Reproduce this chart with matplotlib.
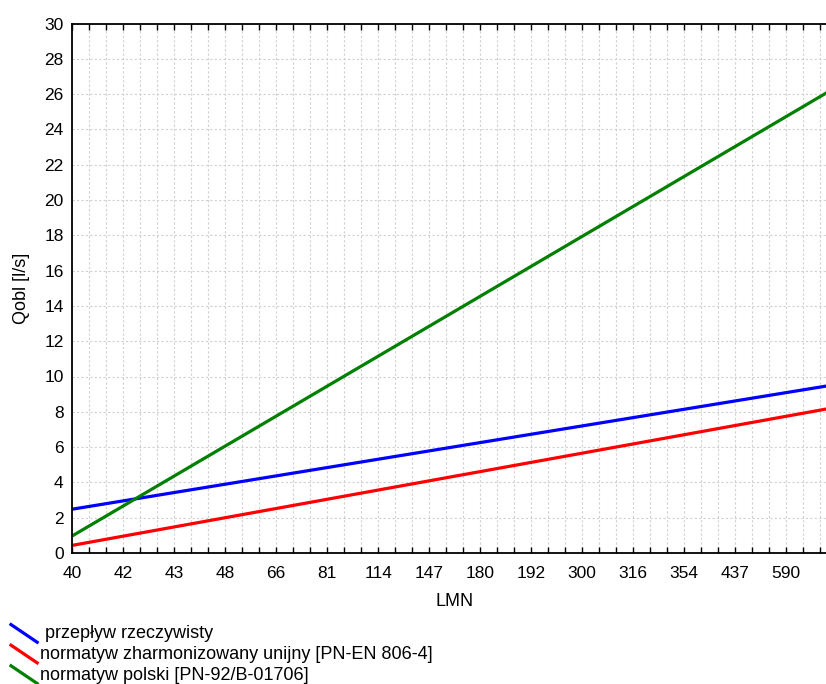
import matplotlib
matplotlib.use("Agg")
import matplotlib.pyplot as plt
from matplotlib.lines import Line2D
from matplotlib.legend_handler import HandlerBase
import numpy as np

plt.rcParams['font.family'] = ['Liberation Sans', 'DejaVu Sans']

# kategorie LMN (co trzeci znacznik ma etykiete)
lmn_labels = ['40', '42', '43', '48', '66', '81', '114', '147', '180',
              '192', '300', '316', '354', '437', '590']
n_ticks = 46  # liczba pozycji na osi X

# wartosci na poczatku i koncu osi (linie proste)
qobl_rzecz = [2.48, 9.56]
qobl_unijny = [0.43, 8.27]
qobl_polski = [0.96, 26.43]

nazwy = [' przepływ rzeczywisty',
         'normatyw zharmonizowany unijny [PN-EN 806-4]',
         'normatyw polski [PN-92/B-01706]']
kolory = ['#0000ff', '#ff0000', '#008000']


class SkosHandler(HandlerBase):
    def create_artists(self, legend, orig_handle, xdescent, ydescent,
                       width, height, fontsize, trans):
        l = Line2D([-xdescent, -xdescent + width],
                   [-ydescent + height * 1.1, -ydescent - height * 0.3],
                   color=orig_handle.get_color(),
                   lw=orig_handle.get_linewidth(), transform=trans)
        return [l]


fig = plt.figure(figsize=(8.26, 6.84), dpi=100)
ax = fig.add_axes([72 / 826, 131 / 684, 765.3 / 826, 529.5 / 684])

x_end = [0, n_ticks - 1]
linie = []
for y, c in zip([qobl_rzecz, qobl_unijny, qobl_polski], kolory):
    l, = ax.plot(x_end, y, color=c, lw=2.3, solid_capstyle='butt')
    linie.append(l)

ax.set_xlim(0, n_ticks - 1)
ax.set_ylim(0, 30)
ax.set_xticks(np.arange(0, 3 * len(lmn_labels), 3))
ax.set_xticklabels(lmn_labels)
ax.set_xticks(np.arange(n_ticks), minor=True)
ax.set_yticks(np.arange(0, 31, 2))

ax.grid(True, which='both', axis='x', color='#d0d0d0', ls=(0, (2, 2)), lw=0.8)
ax.grid(True, which='major', axis='y', color='#d0d0d0', ls=(0, (2, 2)), lw=0.8)
ax.set_axisbelow(True)

ax.tick_params(which='both', direction='in', top=True, right=False,
               length=4, width=1, labelsize=12.5, color='black')
ax.tick_params(axis='x', which='major', pad=9)
ax.tick_params(axis='y', which='major', left=False, pad=6)
for s in ['left', 'bottom', 'top']:
    ax.spines[s].set_linewidth(1.3)
ax.spines['right'].set_visible(False)

ax.set_xlabel('LMN', fontsize=13, labelpad=9)
ax.set_ylabel('Qobl [l/s]', fontsize=13, labelpad=10)

fig.legend(linie, nazwy, loc='lower left', bbox_to_anchor=(-0.002, -0.018),
           frameon=False, fontsize=13, handlelength=1.45, handletextpad=0.15,
           labelspacing=0.2, borderpad=0.2,
           handler_map={Line2D: SkosHandler()})

fig.savefig('out.png', dpi=100)
